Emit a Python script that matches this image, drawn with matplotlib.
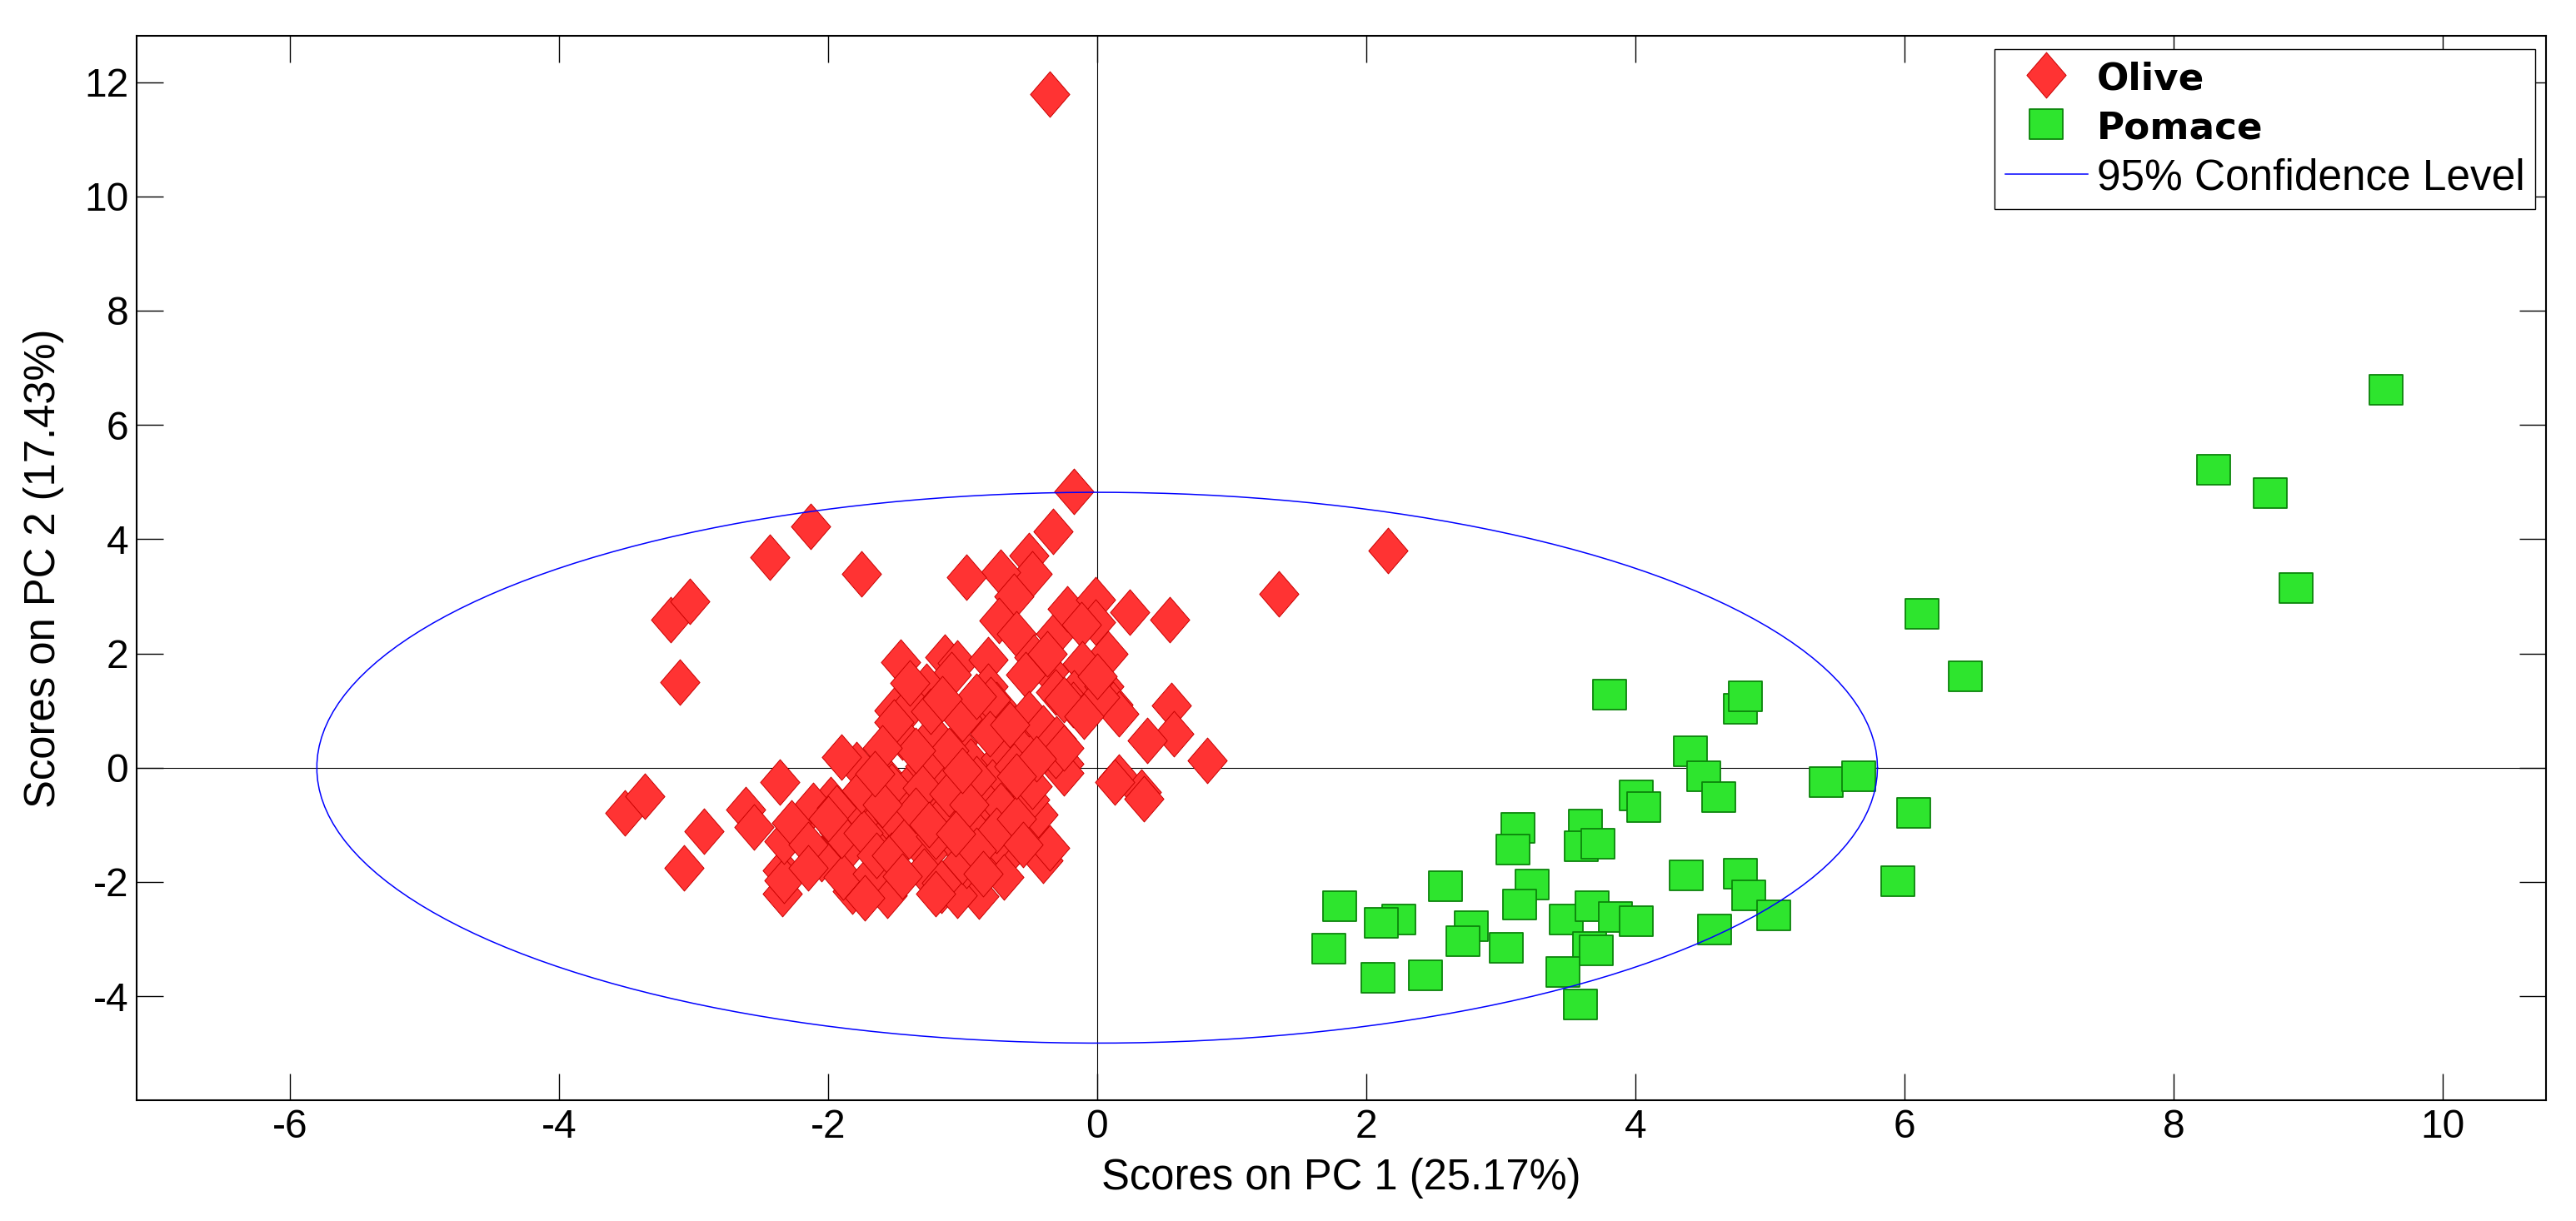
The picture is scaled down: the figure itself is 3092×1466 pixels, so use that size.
import numpy as np
import matplotlib
matplotlib.use("Agg")
import matplotlib.pyplot as plt
from matplotlib.path import Path

# ---------------- data ----------------
olive_x = [-0.35, -0.17, -0.33, -0.51, -0.48, -0.72, -0.97, -0.62, -0.73, -0.60,
           -0.31, -0.22, -0.01, 0.24, 0.54, -0.01, -0.12, 0.08, -0.11, -0.36,
           -0.47, -0.17, 0.05, 0.12, 0.16, 0.55, 0.57, 0.37, 0.82, 0.16,
           0.33, 0.13, 0.35, -0.25, -0.40, -0.18, -0.31, -0.25, 0.02, -0.45,
           -0.40, -0.72, -0.88, -1.16, -1.04, -1.56, -1.82, -2.34, -2.34, -2.33,
           -2.33, -2.61, -2.55, -2.92, -3.07, -3.51, -3.36, -2.36, -3.10, -3.17,
           -3.03, -2.43, -2.13, -1.75, -1.46, -1.13, -1.04, -0.81, -1.08, -1.27,
           -0.81, -1.51, -1.38, -0.91, -0.75, -1.45, -1.22, -1.04, -0.69, -0.56,
           -1.79, -1.90, -1.54, -1.35, -0.94, -0.72, -1.19, -0.78, -0.53, -0.25,
           -0.85, -1.16, -1.45, -1.79, -1.98, -2.11, -2.27, -1.92, -1.67, -1.51,
           -1.16, -0.97, -0.72, -0.75, -1.04, -1.26, -1.48, -1.64, -1.89, -2.05,
           -1.89, -1.67, -1.29, -0.97, -0.69, -1.16, -1.73, -0.44, -0.50, -0.72,
           -0.31, -0.53, -0.37, -0.51, -0.48, -0.79, -1.00, -0.40, -1.28, -1.24,
           -0.75, -1.00, -1.94, -1.90, -1.74, -1.64, -1.53, -1.51, -1.51, -1.53,
           1.35, 2.16, -1.10, -0.90, -1.30, -0.62, -0.60, -1.40, -1.20, -0.90,
           -1.75, -2.00, -0.35, -0.30, -0.10, 0.00, -1.39,
           -1.35, -1.60, -1.10, -0.95, -1.35, -1.60, -1.25, -1.05, -0.55, -0.85,
           -1.45, -1.20, -2.15, -2.15, -0.80, -0.90, -1.15, -0.65, -0.25, -0.45,
           -0.60, -1.00, -1.65]
olive_y = [11.79, 4.84, 4.14, 3.72, 3.40, 3.42, 3.34, 3.00, 2.58, 2.35,
           2.35, 2.78, 2.94, 2.72, 2.59, 2.55, 2.51, 2.00, 1.82, 1.68,
           1.94, 1.31, 1.42, 1.10, 0.95, 1.09, 0.60, 0.48, 0.13, -0.17,
           -0.42, -0.25, -0.55, 0.07, 0.58, 1.10, 1.32, 1.19, 1.24, -1.17,
           -1.62, -1.65, -2.25, -2.15, -2.23, -2.24, -2.16, -2.21, -1.80, -1.97,
           -1.29, -0.73, -1.04, -1.11, -1.75, -0.79, -0.50, -0.25, 1.50, 2.59,
           2.91, 3.69, 4.22, 3.39, 1.85, 1.94, 1.83, 1.89, 1.63, 1.42,
           1.42, 1.00, 1.10, 0.95, 1.10, 0.53, 0.58, 0.43, 0.38, 0.48,
           0.06, 0.18, -0.25, -0.20, 0.12, 0.17, 0.06, -0.25, -0.35, -0.09,
           -0.56, -0.77, -0.56, -0.72, -0.56, -0.66, -0.97, -1.13, -1.03, -1.03,
           -0.87, -0.93, -1.03, -1.29, -1.34, -1.50, -1.39, -1.45, -1.50, -1.59,
           -1.92, -1.86, -1.81, -1.71, -1.92, -2.02, -2.28, -0.82, -0.56, -0.66,
           0.22, 1.63, 1.99, 0.95, -0.32, 1.19, 0.85, 0.70, 0.02, 0.99,
           -1.10, -1.63, -0.71, -1.19, -1.14, -1.53, -0.32, 0.80, -0.90, -1.53,
           3.05, 3.80, 0.30, -0.20, -0.35, 0.02, -0.90, -1.20, -1.20, -1.45,
           -0.40, -0.90, -1.40, 0.50, 0.90, 1.60, 1.48,
           0.30, 0.35, -0.45, -0.65, -0.75, -0.65, -1.00, -1.15, -1.35, -1.85,
           -1.90, -2.20, -1.35, -1.75, 0.60, 1.25, 1.20, 0.75, 0.35, 0.15,
           -0.15, -0.05, -0.10]

pomace_x = [6.13, 6.45, 3.81, 4.78, 4.82, 4.41, 4.51, 4.62, 5.42, 5.66,
            6.07, 5.95, 4.01, 4.06, 3.13, 3.09, 3.63, 3.60, 3.72, 2.59,
            3.23, 3.14, 4.38, 4.78, 4.84, 5.03, 4.59, 3.49, 3.68, 3.85,
            4.01, 2.78, 2.72, 3.04, 3.66, 3.71, 3.46, 3.59, 2.09, 2.44,
            2.24, 2.11, 1.80, 1.72, 8.30, 8.72, 8.91, 9.58]
pomace_y = [2.69, 1.60, 1.28, 1.03, 1.25, 0.29, -0.15, -0.52, -0.25, -0.15,
            -0.79, -1.99, -0.49, -0.69, -1.05, -1.43, -1.00, -1.38, -1.33, -2.07,
            -2.05, -2.39, -1.88, -1.86, -2.23, -2.58, -2.83, -2.66, -2.43, -2.61,
            -2.69, -2.77, -3.03, -3.15, -3.14, -3.19, -3.58, -4.14, -3.68, -3.63,
            -2.66, -2.72, -2.43, -3.17, 5.21, 4.81, 3.15, 6.61]

ellipse_center = (0.0, 0.0)
ellipse_semi_axes = (5.80, 4.82)

labels = ["Olive", "Pomace", "95% Confidence Level"]
x_ticks = [-6, -4, -2, 0, 2, 4, 6, 8, 10]
y_ticks = [-4, -2, 0, 2, 4, 6, 8, 10, 12]
x_label = "Scores on PC 1 (25.17%)"
y_label = "Scores on PC 2 (17.43%)"

# ---------------- style ----------------
plt.rcParams['font.family'] = ['Liberation Sans', 'DejaVu Sans']
plt.rcParams['axes.unicode_minus'] = False

fig = plt.figure(figsize=(30.92, 14.66), dpi=100)
ax = fig.add_axes([0.0530, 0.0989, 0.9354, 0.8718])

diamond = Path([(0, 1), (0.86, 0), (0, -1), (-0.86, 0), (0, 1)], closed=True)
square = Path([(-1, -0.91), (1, -0.91), (1, 0.91), (-1, 0.91), (-1, -0.91)], closed=True)

ax.axhline(0, color='black', lw=0.8, zorder=1)
ax.axvline(0, color='black', lw=0.8, zorder=1)

h1, = ax.plot(olive_x, olive_y, linestyle='none', marker=diamond, markersize=39.5,
              markerfacecolor='#FF3333', markeredgecolor='#C80000',
              markeredgewidth=0.7, zorder=3, label=labels[0])
h2, = ax.plot(pomace_x, pomace_y, linestyle='none', marker=square, markersize=28.8,
              markerfacecolor='#2EE52E', markeredgecolor='#0B840B',
              markeredgewidth=1.3, zorder=3, label=labels[1])

t = np.linspace(0, 2 * np.pi, 200)
ex = ellipse_center[0] + ellipse_semi_axes[0] * np.cos(t)
ey = ellipse_center[1] + ellipse_semi_axes[1] * np.sin(t)
h3, = ax.plot(ex, ey, color='#0000FF', lw=1.1, zorder=4, label=labels[2])

ax.set_xlim(-7.14, 10.77)
ax.set_ylim(-5.82, 12.81)
ax.set_xticks(x_ticks)
ax.set_yticks(y_ticks)
ax.tick_params(axis='both', which='both', direction='in', length=23, width=1.0,
               top=True, right=True, labelsize=34.5, pad=7)
for s in ax.spines.values():
    s.set_linewidth(1.5)

ax.set_xlabel(x_label, fontsize=36.5, labelpad=10)
ax.set_ylabel(y_label, fontsize=36.5, labelpad=17)

leg = ax.legend(handles=[h1, h2, h3], loc='upper right',
                bbox_to_anchor=(0.9955, 0.9875), borderaxespad=0,
                fontsize=37, frameon=True, fancybox=False, framealpha=1,
                edgecolor='black', handlelength=1.93, handletextpad=0.21,
                borderpad=0.25, labelspacing=0.27, numpoints=1)
leg.get_frame().set_linewidth(1.0)
for txt in leg.get_texts()[:2]:
    txt.set_fontfamily('DejaVu Sans')
    txt.set_fontweight('bold')
    txt.set_fontsize(32.6)

fig.savefig("out.png", dpi=100)
